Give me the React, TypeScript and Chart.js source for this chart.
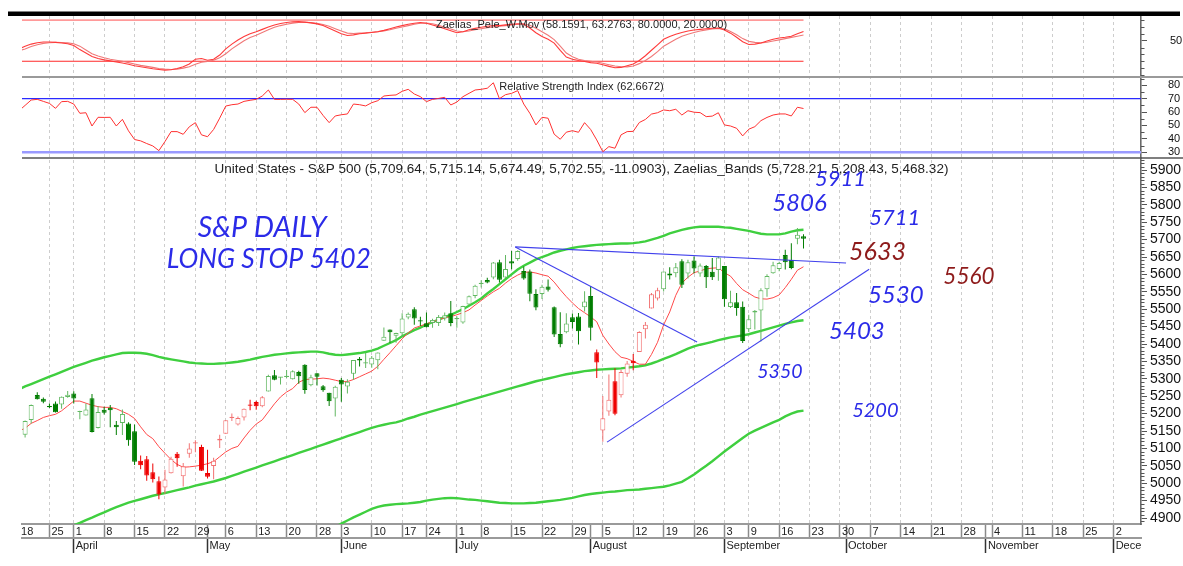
import React, { useEffect, useRef } from 'react';
import { Chart, registerables } from 'chart.js';

Chart.register(...registerables);

const FONT = '"Liberation Sans", Arial, sans-serif';
const INK_FONT = 'Lato, "Liberation Sans", sans-serif';

// ---------- categories (trading days, M/D, 2024) ----------
const DATES: string[] = [
  '3/18','3/19','3/20','3/21','3/22','3/25','3/26','3/27','3/28',
  '4/1','4/2','4/3','4/4','4/5','4/8','4/9','4/10','4/11','4/12',
  '4/15','4/16','4/17','4/18','4/19','4/22','4/23','4/24','4/25','4/26',
  '4/29','4/30','5/1','5/2','5/3','5/6','5/7','5/8','5/9','5/10',
  '5/13','5/14','5/15','5/16','5/17','5/20','5/21','5/22','5/23','5/24',
  '5/28','5/29','5/30','5/31','6/3','6/4','6/5','6/6','6/7',
  '6/10','6/11','6/12','6/13','6/14','6/17','6/18','6/20','6/21',
  '6/24','6/25','6/26','6/27','6/28','7/1','7/2','7/3','7/5',
  '7/8','7/9','7/10','7/11','7/12','7/15','7/16','7/17','7/18','7/19',
  '7/22','7/23','7/24','7/25','7/26','7/29','7/30','7/31','8/1','8/2',
  '8/5','8/6','8/7','8/8','8/9','8/12','8/13','8/14','8/15','8/16',
  '8/19','8/20','8/21','8/22','8/23','8/26','8/27','8/28','8/29','8/30',
  '9/3','9/4','9/5','9/6','9/9','9/10','9/11','9/12','9/13',
  '9/16','9/17','9/18','9/19','9/20','9/23','9/24','9/25','9/26','9/27',
  '9/30','10/1','10/2','10/3','10/4','10/7','10/8','10/9','10/10','10/11',
  '10/14','10/15','10/16','10/17','10/18','10/21','10/22','10/23','10/24','10/25',
  '10/28','10/29','10/30','10/31','11/1','11/4','11/5','11/6','11/7','11/8',
  '11/11','11/12','11/13','11/14','11/15','11/18','11/19','11/20','11/21','11/22',
  '11/25','11/26','11/27','11/28','11/29','12/2','12/3','12/4','12/5','12/6',
];
const MONTH_NAMES = ['January','February','March','April','May','June','July','August','September','October','November','December'];

// ---------- S&P 500 daily OHLC ----------
const OPEN = [
  5154.77,5139.09,5181.69,5253.43,5242.48,5219.52,5228.85,5226.31,5248.03,5257.97,
  5204.29,5194.37,5244.05,5158.95,5211.37,5217.03,5167.88,5172.95,5171.51,5149.67,
  5064.59,5068.97,5031.52,5005.44,4987.33,5028.85,5084.86,5019.88,5084.65,5114.13,
  5103.78,5029.03,5049.32,5122.78,5142.42,5187.20,5168.98,5189.03,5225.49,5233.08,
  5221.10,5263.26,5310.07,5303.10,5305.35,5298.69,5319.28,5340.26,5281.45,5315.91,
  5278.73,5259.77,5243.21,5297.15,5278.24,5314.48,5357.80,5343.81,5341.22,5353.00,
  5409.13,5441.93,5424.08,5431.11,5476.15,5499.99,5466.77,5459.58,5460.73,5460.71,
  5473.59,5488.48,5471.08,5461.84,5513.61,5537.91,5572.75,5584.24,5591.26,5635.21,
  5590.76,5638.16,5644.09,5610.07,5608.56,5543.37,5544.05,5565.30,5505.84,5428.70,
  5433.67,5476.55,5478.73,5505.59,5537.84,5376.63,5151.14,5206.42,5293.13,5252.57,
  5314.38,5351.88,5376.98,5442.24,5501.99,5530.50,5557.23,5602.88,5603.09,5637.77,
  5602.74,5639.66,5602.89,5624.51,5607.30,5612.74,5623.89,5506.68,5520.08,5507.33,
  5442.07,5490.51,5496.42,5557.48,5603.34,5615.21,5655.51,5641.68,5702.63,5709.64,
];
const HIGH = [
  5175.60,5180.31,5226.19,5261.10,5246.09,5229.09,5235.16,5249.26,5264.85,5263.95,
  5208.34,5228.75,5256.59,5222.18,5219.57,5224.81,5178.43,5211.78,5175.03,5168.43,
  5079.84,5077.96,5056.66,5019.02,5038.84,5076.12,5089.48,5057.75,5114.62,5123.49,
  5110.83,5096.12,5073.21,5139.12,5181.00,5200.23,5191.95,5214.53,5239.66,5237.26,
  5250.37,5311.76,5325.49,5305.45,5325.32,5324.32,5323.18,5341.88,5311.65,5315.91,
  5282.27,5260.21,5280.33,5302.11,5298.80,5354.16,5362.35,5375.08,5365.79,5375.95,
  5447.25,5441.93,5432.39,5488.50,5490.38,5505.53,5478.31,5490.66,5472.88,5483.14,
  5490.81,5523.64,5479.55,5509.69,5539.27,5570.33,5583.11,5590.75,5635.39,5642.45,
  5655.56,5666.94,5669.67,5622.49,5614.05,5557.50,5570.36,5585.34,5508.04,5491.59,
  5488.32,5487.74,5489.46,5551.51,5566.16,5383.89,5250.89,5312.34,5330.64,5326.02,
  5351.36,5371.20,5436.50,5463.22,5546.23,5561.98,5608.30,5620.51,5632.68,5643.22,
  5641.82,5651.62,5631.18,5627.03,5646.95,5651.37,5623.89,5552.99,5546.30,5522.47,
  5484.20,5497.91,5560.41,5600.71,5636.27,5636.05,5670.81,5689.75,5733.57,5715.14,
];
const LOW = [
  5145.47,5131.59,5171.55,5240.66,5229.87,5216.09,5203.42,5213.92,5245.82,5229.20,
  5184.05,5194.37,5146.06,5157.21,5197.35,5160.78,5138.70,5138.77,5107.94,5052.47,
  5039.83,5007.25,5001.89,4953.56,4969.40,5027.96,5047.02,4990.58,5073.14,5088.65,
  5035.31,5013.45,5011.05,5101.22,5142.42,5178.96,5165.86,5180.03,5209.68,5211.16,
  5217.98,5263.26,5296.19,5283.59,5302.40,5297.87,5286.01,5256.93,5278.39,5280.89,
  5262.70,5222.10,5191.68,5234.32,5257.63,5297.64,5335.36,5331.33,5331.52,5327.25,
  5409.13,5403.75,5403.75,5420.40,5471.32,5455.56,5452.03,5447.59,5446.56,5451.87,
  5467.54,5451.12,5446.53,5458.43,5511.10,5531.63,5562.51,5574.57,5586.44,5576.53,
  5590.44,5614.75,5639.02,5584.81,5522.81,5497.04,5529.04,5550.90,5419.98,5390.95,
  5430.70,5444.44,5398.87,5493.75,5410.42,5302.03,5119.26,5193.56,5195.54,5246.43,
  5305.94,5324.37,5376.98,5415.69,5501.99,5525.33,5550.74,5585.50,5591.57,5560.95,
  5588.51,5602.34,5593.48,5560.95,5583.71,5581.79,5507.31,5503.66,5480.97,5402.62,
  5434.49,5441.72,5406.96,5535.50,5601.65,5609.03,5614.05,5615.08,5686.42,5674.49,
];
const CLOSE = [
  5149.42,5178.51,5224.62,5241.53,5234.18,5218.19,5203.58,5248.49,5254.35,5243.77,
  5205.81,5211.49,5147.21,5204.34,5202.39,5209.91,5160.64,5199.06,5123.41,5061.82,
  5051.41,5022.21,5011.12,4967.23,5010.60,5070.55,5071.63,5048.42,5099.96,5116.17,
  5035.69,5018.39,5064.20,5127.79,5180.74,5187.70,5187.67,5214.08,5222.68,5221.42,
  5246.68,5308.15,5297.10,5303.27,5308.13,5321.41,5307.01,5267.84,5304.72,5306.04,
  5266.95,5235.48,5277.51,5283.40,5291.34,5354.03,5352.96,5346.99,5360.79,5375.32,
  5421.03,5433.74,5431.60,5473.23,5487.03,5473.17,5464.62,5447.87,5469.30,5477.90,
  5482.87,5460.48,5475.09,5509.01,5537.02,5567.19,5572.85,5576.98,5633.91,5584.54,
  5615.35,5631.22,5667.20,5588.27,5544.59,5505.00,5564.41,5555.74,5427.13,5399.22,
  5459.10,5463.54,5436.44,5522.30,5446.68,5346.56,5186.33,5240.03,5199.50,5319.31,
  5344.16,5344.39,5434.43,5455.21,5543.22,5554.25,5608.25,5597.12,5620.85,5570.64,
  5634.61,5616.84,5625.80,5592.18,5591.96,5648.40,5528.93,5520.07,5503.41,5408.42,
  5471.05,5495.52,5554.13,5595.76,5626.02,5633.09,5634.58,5618.26,5713.64,5702.55,
];

// ---------- Zaelias_Bands (upper / middle / lower) ----------
const BAND_UPPER = [
  5270,5278,5285,5292,5299,5306,5313,5320,5327,5334,
  5340,5346,5352,5357,5362,5366,5370,5374,5375,5375,
  5374,5372,5368,5363,5359,5356,5353,5350,5347,5345,
  5344,5343,5343,5344,5345,5347,5349,5352,5355,5359,
  5363,5366,5369,5371,5373,5375,5376,5377,5378,5378,
  5376,5372,5369,5368,5370,5372,5374,5377,5381,5387,
  5395,5403,5411,5422,5431,5440,5447,5456,5463,5470,
  5477,5484,5492,5500,5510,5520,5531,5545,5558,5572,
  5586,5600,5614,5625,5634,5643,5650,5656,5663,5668,
  5672,5676,5679,5681,5683,5685,5686,5687,5688,5689,
  5689,5690,5692,5695,5700,5705,5711,5718,5723,5728,
  5732,5735,5737,5737,5737,5737,5735,5734,5731,5728,
  5725,5721,5717,5715,5715,5715,5718,5723,5727,5728.21,
];
const BAND_MIDDLE = [
  4815,4823,4831,4839,4847,4855,4862,4868,4874,4879,
  4886,4894,4901,4909,4916,4924,4931,4938,4944,4949,
  4954,4959,4964,4968,4972,4976,4980,4984,4988,4993,
  4997,5001,5005,5010,5015,5021,5027,5033,5039,5045,
  5051,5057,5063,5069,5075,5081,5087,5093,5099,5105,
  5111,5117,5123,5129,5135,5141,5147,5153,5159,5164,
  5168,5172,5175,5180,5186,5191,5197,5202,5207,5212,
  5217,5222,5227,5233,5238,5243,5248,5253,5258,5263,
  5268,5273,5278,5283,5288,5293,5297,5301,5305,5309,
  5313,5316,5319,5322,5324,5326,5327,5328,5329,5330,
  5332,5334,5336,5339,5344,5350,5357,5364,5371,5379,
  5387,5393,5398,5402,5406,5411,5415,5419,5422,5425,
  5428,5433,5438,5443,5448,5453,5458,5462,5466,5468.32,
];
const BAND_LOWER = [
  null,null,null,null,null,null,null,null,null,null,
  null,null,null,null,null,null,null,null,null,null,
  null,null,null,null,null,null,null,null,null,null,
  null,null,null,null,null,null,null,null,null,null,
  null,null,null,null,null,null,null,null,null,null,
  4860,4866,4874,4884,4893,4902,4910,4918,4926,4932,
  4936,4938,4940,4941,4942,4944,4946,4950,4953,4955,
  4957,4958,4957,4955,4953,4952,4950,4948,4946,4944,
  4943,4942,4942,4942,4943,4944,4946,4948,4950,4952,
  4955,4958,4962,4966,4969,4971,4973,4975,4976,4978,
  4980,4981,4982,4984,4986,4988,4990,4994,4999,5004,
  5014,5025,5038,5050,5063,5077,5091,5104,5117,5130,
  5142,5151,5159,5167,5175,5182,5192,5200,5206,5208.43,
];
// short moving average (red)
const SHORT_MA = [
  5150,5158,5172,5180,5189,5194,5198,5208,5222,5236,
  5236,5230,5224,5220,5218,5218,5214,5206,5198,5186,
  5162,5140,5128,5105,5086,5068,5054,5046,5047,5049,
  5052,5056,5062,5076,5090,5100,5106,5130,5152,5170,
  5182,5205,5228,5248,5262,5272,5290,5298,5299,5300,
  5302,5300,5296,5292,5292,5298,5306,5314,5322,5336,
  5356,5375,5395,5415,5432,5446,5452,5458,5464,5470,
  5475,5479,5484,5490,5498,5512,5525,5538,5550,5560,
  5575,5588,5598,5606,5607,5604,5599,5595,5578,5556,
  5536,5518,5502,5490,5478,5464,5425,5400,5378,5362,
  5358,5350,5342,5342,5370,5405,5455,5492,5540,5575,
  5592,5605,5610,5616,5618,5619,5605,5595,5574,5556,
  5546,5535,5530,5529,5533,5541,5562,5586,5612,5622,
];

// ---------- Relative Strength Index ----------
const RSI = [
  61,65,69,69.5,68,66.5,62.8,67.8,68,66,
  59.1,59.5,49.6,56.1,56,56.1,49.6,54.6,46,39.5,
  38.5,36.5,34.7,31.2,38,45.4,45.4,43.4,49,52.1,
  43,41.6,47,55.5,64.5,65.5,66,68,68.8,69.5,
  72,76.5,69.5,69.5,69.6,69.5,66,59.6,63.6,63.6,
  57.5,52.1,57.1,58,58.6,66,65.5,64.6,67,68.5,
  72,72.5,72.8,75.5,77,73.5,71.5,67.8,69.5,70.2,
  71,65.3,67.5,71.5,74,76.5,77,77.8,81.9,70,
  73,74,76,66,59.1,50.4,56.1,55.4,43.5,39.7,
  45,46.1,44.9,52.1,47,39.2,30.4,34.2,33,43,
  45.4,45.6,52.2,54.5,58.5,59.5,61.6,61,62.1,57.8,
  61,59.9,59.6,56.6,57,59.5,50.4,49.6,47.9,42.2,
  47.2,49.1,53.6,56,57.8,58.6,58.6,57.1,63.6,62.6672,
];

// ---------- Zaelias_Pele_W.Mov (two lines) ----------
const PELE_FAST = [
  38,42,45,47,48,48,47.5,46.5,45.5,43,
  37,32,27,24,22,20.5,19,17.5,15.5,13.5,
  12,10.5,9,8,7,7.5,9.5,12,16,23,
  24,21.5,23,29,38,45,51,56,60,63,
  66.5,70,73,75,76.5,77.5,77.8,77,76,74.5,
  72,68,64,60,57.5,58.5,60,61,62,63,
  65,67.5,70,72,74,75.5,76.5,75.5,73,70.5,
  67.5,64.5,61.5,63,66,68,69.5,71,72,72,
  73,74,74.6,74,68.5,61.5,56,52,46.5,36,
  26,23,21,19.5,18,17,15,12.5,10.5,11,
  13.5,16,21,28,36,44,52,56,59.5,62,
  64,65.5,66.5,67.5,68.2,68.4,65.5,61,55,48.5,
  44.5,45,46.5,49.5,52,53.9,55,56.5,60,63.2763,
];
const PELE_SLOW = [
  35,38,41.5,44,46,47,47.5,47.3,46.8,45.5,
  42,36.5,31,27.5,25,23,21.5,20,18,16,
  14,12.5,11,9.5,8.5,8,8.5,10,12,15.5,
  18.5,19.5,21.5,25,31,38,44,50,54.5,58,
  62,66,69.5,72,74,75.6,76.5,76.8,76.3,75.2,
  73.5,71,67.5,64,61,60.5,61,61.5,62.3,63.2,
  64.3,66,68,70,72,74,75.5,75.8,74.8,72.5,
  69.5,67,64,63,64,66,67.5,69,70,71,
  72,73,74,74.6,72.5,68,63,58,51.5,42,
  32,26.5,23,21,20,19,17,15,13,12,
  11.8,13,16.5,21,27,34,42,47,52,56.5,
  59.5,62,64,65.8,67,68,67.2,63.5,58.5,53,
  49,47.5,46.8,47.8,49.5,51.2,53,54.8,56.5,58.1591,
];

// ---------- tick labels & levels ----------
const MAIN_TICKS = [4900,4950,5000,5050,5100,5150,5200,5250,5300,5350,5400,5450,5500,5550,5600,5650,5700,5750,5800,5850,5900];
const RSI_TICKS = [30,40,50,60,70,80];
const PELE_TICKS = [50];
const PELE_LEVELS = [80, 20];
const RSI_LEVELS = [70, 30];

// trend lines: [dayIndex, price] endpoints
const TREND_LINES = [
  [[81.6, 5679], [136.0, 5633]],
  [[81.6, 5679], [111.5, 5406]],
  [[96.7, 5118], [139.8, 5615]],
];

const TITLE_PELE = 'Zaelias_Pele_W.Mov (58.1591, 63.2763, 80.0000, 20.0000)';
const TITLE_RSI = 'Relative Strength Index (62.6672)';
const TITLE_MAIN = 'United States - S&P 500 (5,709.64, 5,715.14, 5,674.49, 5,702.55, -11.0903), Zaelias_Bands (5,728.21, 5,208.43, 5,468.32)';

const BLUE_INK = '#2b2be8';
const RED_INK = '#8e1b1b';
const ANNOTATIONS = [
  { text: 'S&P DAILY', at: [29.4, 5733], size: 28.5, color: BLUE_INK },
  { text: 'LONG STOP 5402', at: [24.3, 5644], size: 26.5, color: BLUE_INK },
  { text: '5911', at: [130.9, 5874], size: 22, color: BLUE_INK },
  { text: '5806', at: [123.85, 5805], size: 24, color: BLUE_INK },
  { text: '5711', at: [139.8, 5762], size: 22, color: BLUE_INK },
  { text: '5633', at: [136.5, 5664], size: 25, color: RED_INK },
  { text: '5560', at: [152.0, 5592], size: 22.5, color: RED_INK },
  { text: '5530', at: [139.6, 5541], size: 24, color: BLUE_INK },
  { text: '5403', at: [133.2, 5437], size: 24, color: BLUE_INK },
  { text: '5350', at: [121.4, 5320], size: 19.5, color: BLUE_INK },
  { text: '5200', at: [137.0, 5208], size: 20, color: BLUE_INK },
];

// candle colouring spans (index ranges drawn in red)
const RED_SPANS = [[20, 40], [95, 105]];

// ---------- derived helpers ----------
const monthOf = (s: string) => Number(s.split('/')[0]);
const dayOf = (s: string) => Number(s.split('/')[1]);
const weekday = (s: string) => new Date(2024, monthOf(s) - 1, dayOf(s)).getDay();
const WEEK_STARTS = DATES.map((d, i) => (i === 0 || weekday(d) < weekday(DATES[i - 1]) ? i : -1)).filter((i) => i >= 0);
const MONTH_STARTS = DATES.map((d, i) => (i > 0 && monthOf(d) !== monthOf(DATES[i - 1]) ? i : -1)).filter((i) => i >= 0);
const WEEK_SET = new Set(WEEK_STARTS);
const X_TICKS = Array.from(new Set([...WEEK_STARTS, ...MONTH_STARTS])).sort((a, b) => a - b);
const X_MIN = 0.49;
const X_MAX = 184.5;

const isRed = (i: number) => RED_SPANS.some(([a, b]) => i >= a && i <= b);
const isUp = (i: number) => CLOSE[i] >= OPEN[i];
const lineColor = (i: number) => (isRed(i) ? (isUp(i) ? '#f27272' : '#ee0000') : (isUp(i) ? '#62b862' : '#007d00'));
const fillColor = (i: number) => (isUp(i) ? '#ffffff' : lineColor(i));

const pts = (arr: (number | null)[]) => arr.map((v, i) => ({ x: i, y: v }));

const noPad = (s: any) => { s.paddingTop = 0; s.paddingBottom = 0; s.paddingLeft = 0; s.paddingRight = 0; };

const decorPlugin = {
  id: 'decor',
  beforeDatasetsDraw(chart: any) {
    const { ctx, chartArea } = chart;
    const sx = chart.scales.x;
    const yp = chart.scales.yPele;
    const yr = chart.scales.yRsi;
    ctx.save();
    ctx.beginPath();
    ctx.rect(chartArea.left, chartArea.top, chartArea.right - chartArea.left, chartArea.bottom - chartArea.top);
    ctx.clip();
    const x0 = Math.max(chartArea.left, sx.getPixelForValue(0));
    const x1 = sx.getPixelForValue(CLOSE.length - 1);
    PELE_LEVELS.forEach((lv, k) => {
      const y = yp.getPixelForValue(lv);
      ctx.strokeStyle = k === 0 ? '#ff9a9a' : '#ff2a2a';
      ctx.lineWidth = k === 0 ? 1.6 : 1.2;
      ctx.beginPath(); ctx.moveTo(x0, y); ctx.lineTo(x1, y); ctx.stroke();
    });
    RSI_LEVELS.forEach((lv, k) => {
      const y = yr.getPixelForValue(lv);
      ctx.strokeStyle = k === 0 ? '#2a2aff' : '#9a9aff';
      ctx.lineWidth = k === 0 ? 1.2 : 2.6;
      ctx.beginPath(); ctx.moveTo(chartArea.left, y); ctx.lineTo(chartArea.right, y); ctx.stroke();
    });
    ctx.restore();
  },
  afterDraw(chart: any) {
    const { ctx, chartArea, width } = chart;
    const yp = chart.scales.yPele;
    const yr = chart.scales.yRsi;
    const ym = chart.scales.y;
    const sx = chart.scales.x;
    ctx.save();
    // hide month label overflow past the axis
    ctx.fillStyle = '#ffffff';
    ctx.fillRect(chartArea.right + 1, chartArea.bottom + 3, width - chartArea.right, 60);
    // minor ticks
    const minor: [any, number, number[]][] = [[yp, 10, PELE_TICKS], [yr, 5, RSI_TICKS], [ym, 10, MAIN_TICKS]];
    ctx.strokeStyle = '#555';
    ctx.lineWidth = 1;
    minor.forEach(([s, step, major]) => {
      for (let v = Math.ceil(s.min / step) * step; v <= s.max; v += step) {
        if (major.includes(v)) continue;
        const y = Math.round(s.getPixelForValue(v)) + 0.5;
        ctx.beginPath(); ctx.moveTo(s.left, y); ctx.lineTo(s.left + 3.5, y); ctx.stroke();
      }
    });
    // panel separators
    ctx.strokeStyle = '#9a9a9a';
    ctx.lineWidth = 2;
    ctx.beginPath(); ctx.moveTo(chartArea.left, yp.bottom); ctx.lineTo(width, yp.bottom); ctx.stroke();
    ctx.strokeStyle = '#555';
    ctx.lineWidth = 1.5;
    ctx.beginPath(); ctx.moveTo(chartArea.left, yr.bottom); ctx.lineTo(width, yr.bottom); ctx.stroke();
    // top black bar
    ctx.fillStyle = '#000';
    ctx.fillRect(8, chartArea.top - 4.5, 1172, 4.5);
    // panel titles
    const cx = (chartArea.left + chartArea.right) / 2;
    ctx.fillStyle = '#222';
    ctx.textAlign = 'center';
    ctx.textBaseline = 'middle';
    ctx.font = `11px ${FONT}`;
    ctx.fillText(TITLE_PELE, cx, yp.top + 8.5);
    ctx.fillText(TITLE_RSI, cx, yr.top + 10);
    ctx.font = `13.5px ${FONT}`;
    ctx.fillText(TITLE_MAIN, cx, ym.top + 11.5);
    // handwritten annotations
    ctx.textAlign = 'left';
    ANNOTATIONS.forEach((a) => {
      ctx.font = `italic 400 ${a.size}px ${INK_FONT}`;
      ctx.fillStyle = a.color;
      ctx.fillText(a.text, sx.getPixelForValue(a.at[0]), ym.getPixelForValue(a.at[1]));
    });
    ctx.restore();
  },
};

export default function App() {
  const ref = useRef<HTMLCanvasElement>(null);
  useEffect(() => {
    Chart.defaults.font.family = FONT;
    const n = CLOSE.length;
    const idx = Array.from({ length: n }, (_, i) => i);
    const lineBase = { type: 'line', pointRadius: 0, pointHoverRadius: 0, fill: false, tension: 0, xAxisID: 'x' };
    const datasets: any[] = [
      ...TREND_LINES.map((seg) => ({
        ...lineBase, yAxisID: 'y', order: 0,
        data: seg.map(([x, y]) => ({ x, y })),
        borderColor: 'rgba(55,55,235,0.95)', borderWidth: 1.1,
      })),
      {
        type: 'bar', xAxisID: 'x', yAxisID: 'y', order: 1, grouped: false,
        data: idx.map((i) => ({ x: i, y: [OPEN[i], CLOSE[i]] })),
        backgroundColor: idx.map(fillColor), borderColor: idx.map(lineColor),
        borderWidth: 1, borderSkipped: false, barThickness: 5, minBarLength: 1.2, inflateAmount: 0,
      },
      {
        type: 'bar', xAxisID: 'x', yAxisID: 'y', order: 2, grouped: false,
        data: idx.map((i) => ({ x: i, y: [LOW[i], HIGH[i]] })),
        backgroundColor: idx.map(lineColor), borderWidth: 0, barThickness: 1, inflateAmount: 0,
      },
      { ...lineBase, yAxisID: 'y', order: 3, data: pts(SHORT_MA), borderColor: '#ff4a4a', borderWidth: 1 },
      { ...lineBase, yAxisID: 'y', order: 4, data: pts(BAND_UPPER), borderColor: '#3fcf3f', borderWidth: 2.4 },
      { ...lineBase, yAxisID: 'y', order: 4, data: pts(BAND_MIDDLE), borderColor: '#3fcf3f', borderWidth: 2.4 },
      { ...lineBase, yAxisID: 'y', order: 4, data: pts(BAND_LOWER), borderColor: '#3fcf3f', borderWidth: 2.4 },
      { ...lineBase, yAxisID: 'yRsi', order: 5, data: pts(RSI), borderColor: '#ff3030', borderWidth: 1 },
      { ...lineBase, yAxisID: 'yPele', order: 5, data: pts(PELE_FAST), borderColor: '#ff3a3a', borderWidth: 1.1 },
      { ...lineBase, yAxisID: 'yPele', order: 6, data: pts(PELE_SLOW), borderColor: '#f07878', borderWidth: 1.1 },
    ];

    const yCommon = (weight: number, stackWeight: number, min: number, max: number, major: number[], size: number, pad: number) => ({
      type: 'linear', position: 'right', stack: 'panels', stackWeight, weight, min, max, bounds: 'data', offset: false,
      afterBuildTicks: (s: any) => { s.ticks = major.map((v) => ({ value: v })); },
      afterFit: (s: any) => { s.width = 42; noPad(s); },
      ticks: { autoSkip: false, color: '#111', padding: pad, font: { family: FONT, size }, callback: (v: any) => String(v) },
      grid: { drawOnChartArea: false, drawTicks: true, tickLength: 6, tickColor: '#555', tickWidth: 1 },
      border: { display: true, color: '#6a6a6a', width: 1.6 },
    });

    const chart = new Chart(ref.current as HTMLCanvasElement, {
      type: 'line',
      data: { datasets },
      plugins: [decorPlugin],
      options: {
        responsive: false,
        maintainAspectRatio: false,
        devicePixelRatio: 1,
        animation: false,
        events: [],
        layout: { padding: { left: 22, top: 16, right: 0, bottom: 13 }, autoPadding: false },
        plugins: { legend: { display: false }, tooltip: { enabled: false }, title: { display: false } },
        scales: {
          x: {
            type: 'linear', position: 'bottom', weight: 0, min: X_MIN, max: X_MAX, bounds: 'data', offset: false,
            afterBuildTicks: (s: any) => { s.ticks = X_TICKS.map((v) => ({ value: v })); },
            afterFit: (s: any) => { s.height = 14; noPad(s); },
            ticks: {
              autoSkip: false, maxRotation: 0, minRotation: 0, align: 'start', padding: -13, labelOffset: 2,
              color: '#222', font: { family: FONT, size: 11 },
              callback: (v: any) => (WEEK_SET.has(v) ? String(dayOf(DATES[v])) : ''),
            },
            grid: {
              offset: false, drawOnChartArea: true, drawTicks: true, tickLength: 14, tickWidth: 1.5, lineWidth: 1,
              color: (c: any) => (c.tick && WEEK_SET.has(c.tick.value) && c.tick.value >= X_MIN ? '#cdcdcd' : 'rgba(0,0,0,0)'),
              tickColor: (c: any) => (c.tick && c.tick.value >= X_MIN ? '#8a8a8a' : 'rgba(0,0,0,0)'),
            },
            border: { display: true, color: '#9a9a9a', width: 2, dash: [3, 3] },
          },
          xm: {
            type: 'linear', position: 'bottom', weight: 1, min: X_MIN, max: X_MAX, bounds: 'data', offset: false,
            afterBuildTicks: (s: any) => { s.ticks = MONTH_STARTS.map((v) => ({ value: v })); },
            afterFit: (s: any) => { s.height = 15; noPad(s); },
            ticks: {
              autoSkip: false, maxRotation: 0, minRotation: 0, align: 'start', padding: -14, labelOffset: 2,
              color: '#222', font: { family: FONT, size: 11 },
              callback: (v: any) => MONTH_NAMES[monthOf(DATES[v]) - 1],
            },
            grid: { offset: false, drawOnChartArea: false, drawTicks: true, tickLength: 15, tickWidth: 1.5, tickColor: '#333' },
            border: { display: true, color: '#9a9a9a', width: 2 },
          },
          yPele: yCommon(1, 61, -3, 86, PELE_TICKS, 11, 23),
          yRsi: yCommon(2, 81, 25.7, 86.2, RSI_TICKS, 11, 21),
          y: yCommon(3, 366, 4882.8, 5934.5, MAIN_TICKS, 14, 3),
        },
      } as any,
    } as any);
    return () => chart.destroy();
  }, []);
  return (
    <div style={{ position: 'absolute', left: 0, top: 0, width: 1183, height: 566, background: '#fff' }}>
      <canvas ref={ref} width={1183} height={566} style={{ display: 'block', width: 1183, height: 566 }} />
    </div>
  );
}
